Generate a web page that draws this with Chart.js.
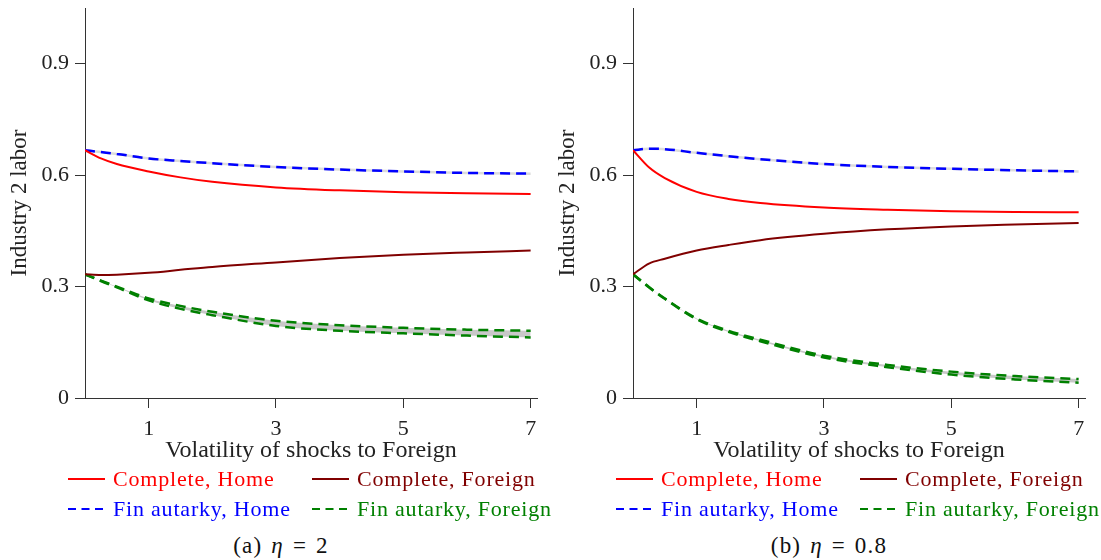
<!DOCTYPE html>
<html>
<head>
<meta charset="utf-8">
<script src="https://cdn.jsdelivr.net/npm/chart.js@4.4.1/dist/chart.umd.min.js"></script>
<style>
  html, body { margin: 0; padding: 0; background: #fff; }
  #wrap { position: relative; width: 1101px; height: 560px; overflow: hidden; font-family: 'Liberation Serif', serif; }
  .cv { position: absolute; top: 0; }
  .leg { position: absolute; height: 24px; line-height: 24px; font-size: 22px; letter-spacing: 0.8px; white-space: nowrap; }
  .leg svg { position: absolute; top: 0; }
  .cap { position: absolute; font-size: 23px; letter-spacing: 1.2px; word-spacing: 2px; transform: translateX(-50%); white-space: nowrap; color: #111; }
</style>
</head>
<body>
<div id="wrap">
  <canvas id="chartA" class="cv" width="550" height="470" style="left:0px"></canvas>
  <canvas id="chartB" class="cv" width="550" height="470" style="left:548px"></canvas>
</div>
<script>
'use strict';

// ── Data ──────────────────────────────────────────────
const xVals = [0, 0.25, 0.5, 1, 1.5, 2, 3, 4, 5, 6, 7];
const xTicks = [1, 3, 5, 7];
const yTicks = [0, 0.3, 0.6, 0.9];

// (a) eta = 2
const compHomeA  = [0.667, 0.645, 0.630, 0.610, 0.594, 0.582, 0.567, 0.559, 0.554, 0.551, 0.549];
const compForA   = [0.333, 0.331, 0.332, 0.337, 0.345, 0.353, 0.365, 0.377, 0.386, 0.392, 0.397];
const finHomeA   = [0.667, 0.662, 0.657, 0.645, 0.638, 0.632, 0.622, 0.615, 0.610, 0.606, 0.604];
const finForHiA  = [0.333, 0.316, 0.300, 0.268, 0.248, 0.232, 0.208, 0.196, 0.189, 0.184, 0.181];
const finForLoA  = [0.333, 0.315, 0.298, 0.263, 0.240, 0.223, 0.194, 0.181, 0.174, 0.168, 0.163];

// (b) eta = 0.8
const compHomeB  = [0.667, 0.621, 0.592, 0.555, 0.536, 0.525, 0.513, 0.507, 0.503, 0.501, 0.500];
const compForB   = [0.333, 0.362, 0.375, 0.397, 0.412, 0.425, 0.442, 0.454, 0.462, 0.467, 0.471];
const finHomeB   = [0.667, 0.671, 0.670, 0.660, 0.651, 0.643, 0.630, 0.622, 0.617, 0.613, 0.610];
const finForHiB  = [0.333, 0.299, 0.268, 0.214, 0.181, 0.157, 0.114, 0.089, 0.071, 0.059, 0.051];
const finForLoB  = [0.333, 0.298, 0.267, 0.212, 0.178, 0.153, 0.109, 0.083, 0.063, 0.050, 0.041];

const legendLabels = ['Complete, Home', 'Complete, Foreign', 'Fin autarky, Home', 'Fin autarky, Foreign'];
const captions = ['(a) <i>η</i> = 2', '(b) <i>η</i> = 0.8'];

const RED = '#ff0000', DARKRED = '#800000', BLUE = '#0000ff', GREEN = '#008000', BAND = '#c8c8c8';
const FONT = "'Liberation Serif', serif";

const pts = (ys) => xVals.map((x, i) => ({ x: x, y: ys[i] }));

function makeChart(canvas, s) {
    const line = (label, ys, color, dash, width, order, extra) => Object.assign({
        label: label,
        data: pts(ys),
        borderColor: color,
        borderWidth: width,
        borderDash: dash,
        pointRadius: 0,
        cubicInterpolationMode: 'monotone',
        fill: false,
        order: order
    }, extra || {});

    return new Chart(canvas, {
        type: 'line',
        data: {
            datasets: [
                line('Complete, Home', s.compHome, RED, [], 2, 1),
                line('Complete, Foreign', s.compFor, DARKRED, [], 2, 2),
                line('Fin autarky, Home', s.finHome, BLUE, [10, 6], 2.5, 3),
                line('blue band', s.finHome, '#dcdcdc', [], 2.5, 8),
                line('Fin autarky, Foreign hi', s.finForHi, GREEN, [10, 6], 2.5, 4,
                     { fill: '+1', backgroundColor: BAND }),
                line('Fin autarky, Foreign lo', s.finForLo, GREEN, [10, 6], 2.5, 5)
            ]
        },
        options: {
            responsive: false,
            animation: false,
            layout: { padding: { top: 8, right: 13, left: 0, bottom: 0 } },
            plugins: {
                legend: { display: false },
                tooltip: { enabled: false },
                filler: { drawTime: 'beforeDatasetsDraw' }
            },
            scales: {
                x: {
                    type: 'linear',
                    min: 0,
                    max: 7.1,
                    afterBuildTicks: (sc) => { sc.ticks = xTicks.map(v => ({ value: v })); },
                    afterFit: (sc) => { sc.height = 72; },
                    grid: { drawOnChartArea: false, drawTicks: true, tickLength: 10, color: '#333' },
                    border: { display: true, color: '#333', width: 1 },
                    ticks: { color: '#222', font: { family: FONT, size: 22 }, padding: 8, maxRotation: 0 },
                    title: { display: true, text: 'Volatility of shocks to Foreign', color: '#222',
                             font: { family: FONT, size: 24 }, padding: { top: 0, bottom: 5 } }
                },
                y: {
                    type: 'linear',
                    min: 0,
                    max: 1.05,
                    afterBuildTicks: (sc) => { sc.ticks = yTicks.map(v => ({ value: v })); },
                    afterFit: (sc) => { sc.width = 85; sc.paddingTop = 0; sc.paddingBottom = 0; },
                    grid: { drawOnChartArea: false, drawTicks: true, tickLength: 10, color: '#333' },
                    border: { display: true, color: '#333', width: 1 },
                    ticks: { color: '#222', font: { family: FONT, size: 22 }, padding: 6,
                             callback: (v) => v === 0 ? '0' : v.toFixed(1) },
                    title: { display: true, text: 'Industry 2 labor', color: '#222',
                             font: { family: FONT, size: 23 }, padding: { top: 6, bottom: 0 } }
                }
            }
        }
    });
}

makeChart(document.getElementById('chartA'), {
    compHome: compHomeA, compFor: compForA, finHome: finHomeA, finForHi: finForHiA, finForLo: finForLoA
});
makeChart(document.getElementById('chartB'), {
    compHome: compHomeB, compFor: compForB, finHome: finHomeB, finForHi: finForHiB, finForLo: finForLoB
});

// ── Legends and captions (HTML under each panel) ──────
const wrap = document.getElementById('wrap');
const legendStyle = [
    { color: RED, dash: '' }, { color: DARKRED, dash: '' },
    { color: BLUE, dash: '8 5.5' }, { color: GREEN, dash: '8 5.5' }
];
const legendPos = [[68, 479], [312, 479], [68, 509], [312, 509]];

[0, 548].forEach((off, panel) => {
    legendLabels.forEach((txt, i) => {
        const st = legendStyle[i];
        const el = document.createElement('div');
        el.className = 'leg';
        el.style.left = (legendPos[i][0] + off) + 'px';
        el.style.top = (legendPos[i][1] - 12) + 'px';
        el.innerHTML =
            `<svg width="40" height="24"><line x1="0" y1="12" x2="37" y2="12" stroke="${st.color}" stroke-width="2.2" stroke-dasharray="${st.dash}"/></svg>` +
            `<span style="margin-left:45px;color:${st.color}">${txt}</span>`;
        wrap.appendChild(el);
    });
    const cap = document.createElement('div');
    cap.className = 'cap';
    cap.style.left = (281 + off) + 'px';
    cap.style.top = '533px';
    cap.innerHTML = captions[panel];
    wrap.appendChild(cap);
});
</script>
</body>
</html>
